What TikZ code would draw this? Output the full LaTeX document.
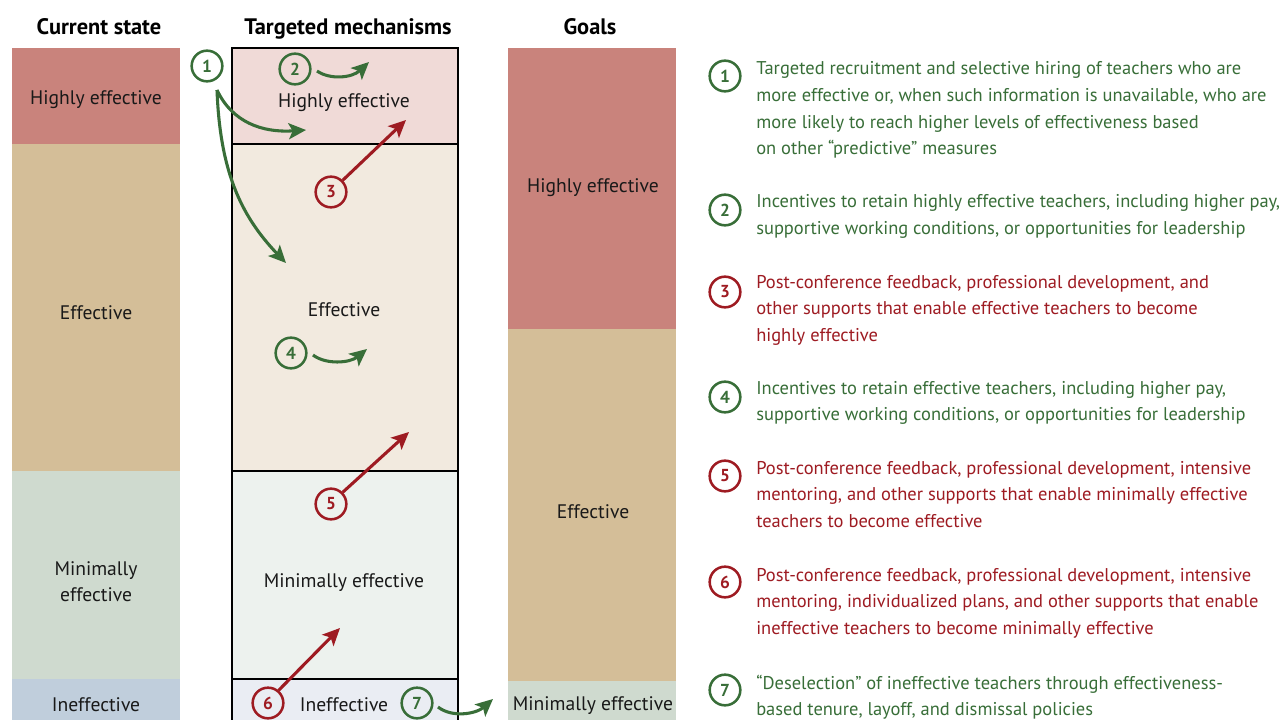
\documentclass[tikz,border=0pt]{standalone}
\usepackage{fontspec}
\setmainfont{PT Sans}
\usetikzlibrary{arrows.meta}
\definecolor{grn}{RGB}{56,110,56}
\definecolor{rd}{RGB}{158,27,34}
\definecolor{lHE}{RGB}{201,131,124}
\definecolor{lEF}{RGB}{212,190,152}
\definecolor{lME}{RGB}{207,218,207}
\definecolor{lIN}{RGB}{192,206,220}
\definecolor{mHE}{RGB}{240,218,215}
\definecolor{mEF}{RGB}{242,234,223}
\definecolor{mME}{RGB}{237,242,238}
\definecolor{mIN}{RGB}{234,237,243}
\tikzset{
  circ/.style={circle, draw, line width=1.9pt, minimum size=23pt, inner sep=0pt,
    font=\fontsize{13}{15}\selectfont\bfseries},
  gc/.style={circ, draw=grn, text=grn},
  rc/.style={circ, draw=rd, text=rd},
  arr/.style={line width=2.3pt, -{Stealth[length=13pt,width=12pt,inset=3pt]}},
  garr/.style={arr, grn},
  rarr/.style={arr, rd},
  lab/.style={font=\fontsize{14.7}{19.5}\selectfont, align=center, text=black!90, inner sep=0pt},
  hdr/.style={font=\fontsize{16.8}{19}\selectfont\bfseries, inner sep=0pt, anchor=base},
  leg/.style={anchor=base west, inner sep=0pt},
  frame/.style={line width=2.2pt, draw=black}
}
\newcommand{\legtext}[1]{\parbox[t]{420pt}{\raggedright\fontsize{13.85}{19.9}\selectfont #1}}
\begin{document}
\begin{tikzpicture}[x=0.75pt,y=-0.75pt]
\useasboundingbox (0,0) rectangle (1284,720);
\fill[white] (0,0) rectangle (1284,720);
% headers
\node[hdr] (h1) at (99,35) {Current state};
\node[hdr] (h2) at (348,35) {Targeted mechanisms};
\node[hdr] (h3) at (590,35) {Goals};
% left column
\fill[lHE] (12,48) rectangle (180,144);
\fill[lEF] (12,144) rectangle (180,471);
\fill[lME] (12,471) rectangle (180,679);
\fill[lIN] (12,679) rectangle (180,720);
\node[lab] (l1) at (96,100) {Highly effective};
\node[lab] (l2) at (96,313) {Effective};
\node[lab] (l3) at (96,582) {Minimally\\effective};
\node[lab] (l4) at (96,705) {Ineffective};
% middle column
\fill[mHE] (232,48) rectangle (458,144);
\fill[mEF] (232,144) rectangle (458,471);
\fill[mME] (232,471) rectangle (458,679);
\fill[mIN] (232,679) rectangle (458,722);
\draw[frame] (232,724) -- (232,48) -- (458,48) -- (458,724);
\draw[frame] (232,144) -- (458,144);
\draw[frame] (232,471) -- (458,471);
\draw[frame] (232,679) -- (458,679);
\node[lab] (m1) at (344,103) {Highly effective};
\node[lab] (m2) at (344,310) {Effective};
\node[lab] (m3) at (344,583) {Minimally effective};
\node[lab] (m4) at (344,705) {Ineffective};
% right column
\fill[lHE] (508,48) rectangle (676,329);
\fill[lEF] (508,329) rectangle (676,681);
\fill[lME] (508,681) rectangle (676,720);
\node[lab] (r1) at (593,188) {Highly effective};
\node[lab] (r2) at (593,512) {Effective};
\node[lab] (r3) at (593,706) {Minimally effective};
% mechanism circles
\node[gc] (c1) at (207,66) {1};
\node[gc] (c2) at (295,69) {2};
\node[rc] (c3) at (331,192) {3};
\node[gc] (c4) at (291,353) {4};
\node[rc] (c5) at (331,504) {5};
\node[rc] (c6) at (268,703) {6};
\node[gc] (c7) at (417,703) {7};
% arrow ends
\coordinate (s1) at (217,90);
\coordinate (s2) at (317,71);
\coordinate (s4) at (313,355);
\coordinate (s7) at (438,707);
\coordinate (t1a) at (306,130);
\coordinate (t1b) at (286,263);
\coordinate (t2) at (369,62);
\coordinate (t3) at (406,120);
\coordinate (t4) at (367,349);
\coordinate (t5) at (409,432);
\coordinate (t6) at (340,628);
\coordinate (t7) at (493,699);
% arrows
\draw[garr] (s1) .. controls (232,122) and (262,133) .. (t1a);
\draw[garr] (s1) .. controls (220,170) and (240,215) .. (t1b);
\draw[garr] (s2) .. controls (330,80) and (352,78) .. (t2);
\draw[rarr] (c3.45) -- (t3);
\draw[garr] (s4) .. controls (326,365) and (350,363) .. (t4);
\draw[rarr] (c5.45) -- (t5);
\draw[rarr] (c6.50) -- (t6);
\draw[garr] (s7) .. controls (452,718) and (476,714) .. (t7);
% legend
\node[gc] (k1) at (725,76) {1};
\node[gc] (k2) at (725,210) {2};
\node[rc] (k3) at (725,292) {3};
\node[gc] (k4) at (725,397) {4};
\node[rc] (k5) at (725,476) {5};
\node[rc] (k6) at (725,582) {6};
\node[gc] (k7) at (725,690) {7};
\node[leg, text=grn] (d1) at (756,75) {\legtext{Targeted recruitment and selective hiring of teachers who are\\more effective or, when such information is unavailable, who are\\more likely to reach higher levels of effectiveness based\\on other “predictive” measures}};
\node[leg, text=grn] (d2) at (756,208) {\legtext{Incentives to retain highly effective teachers, including higher pay,\\supportive working conditions, or opportunities for leadership}};
\node[leg, text=rd] (d3) at (756,288) {\legtext{Post-conference feedback, professional development, and\\other supports that enable effective teachers to become\\highly effective}};
\node[leg, text=grn] (d4) at (756,394) {\legtext{Incentives to retain effective teachers, including higher pay,\\supportive working conditions, or opportunities for leadership}};
\node[leg, text=rd] (d5) at (756,474) {\legtext{Post-conference feedback, professional development, intensive\\mentoring, and other supports that enable minimally effective\\teachers to become effective}};
\node[leg, text=rd] (d6) at (756,581) {\legtext{Post-conference feedback, professional development, intensive\\mentoring, individualized plans, and other supports that enable\\ineffective teachers to become minimally effective}};
\node[leg, text=grn] (d7) at (756,689) {\legtext{“Deselection” of ineffective teachers through effectiveness-\\based tenure, layoff, and dismissal policies}};
\end{tikzpicture}
\end{document}
